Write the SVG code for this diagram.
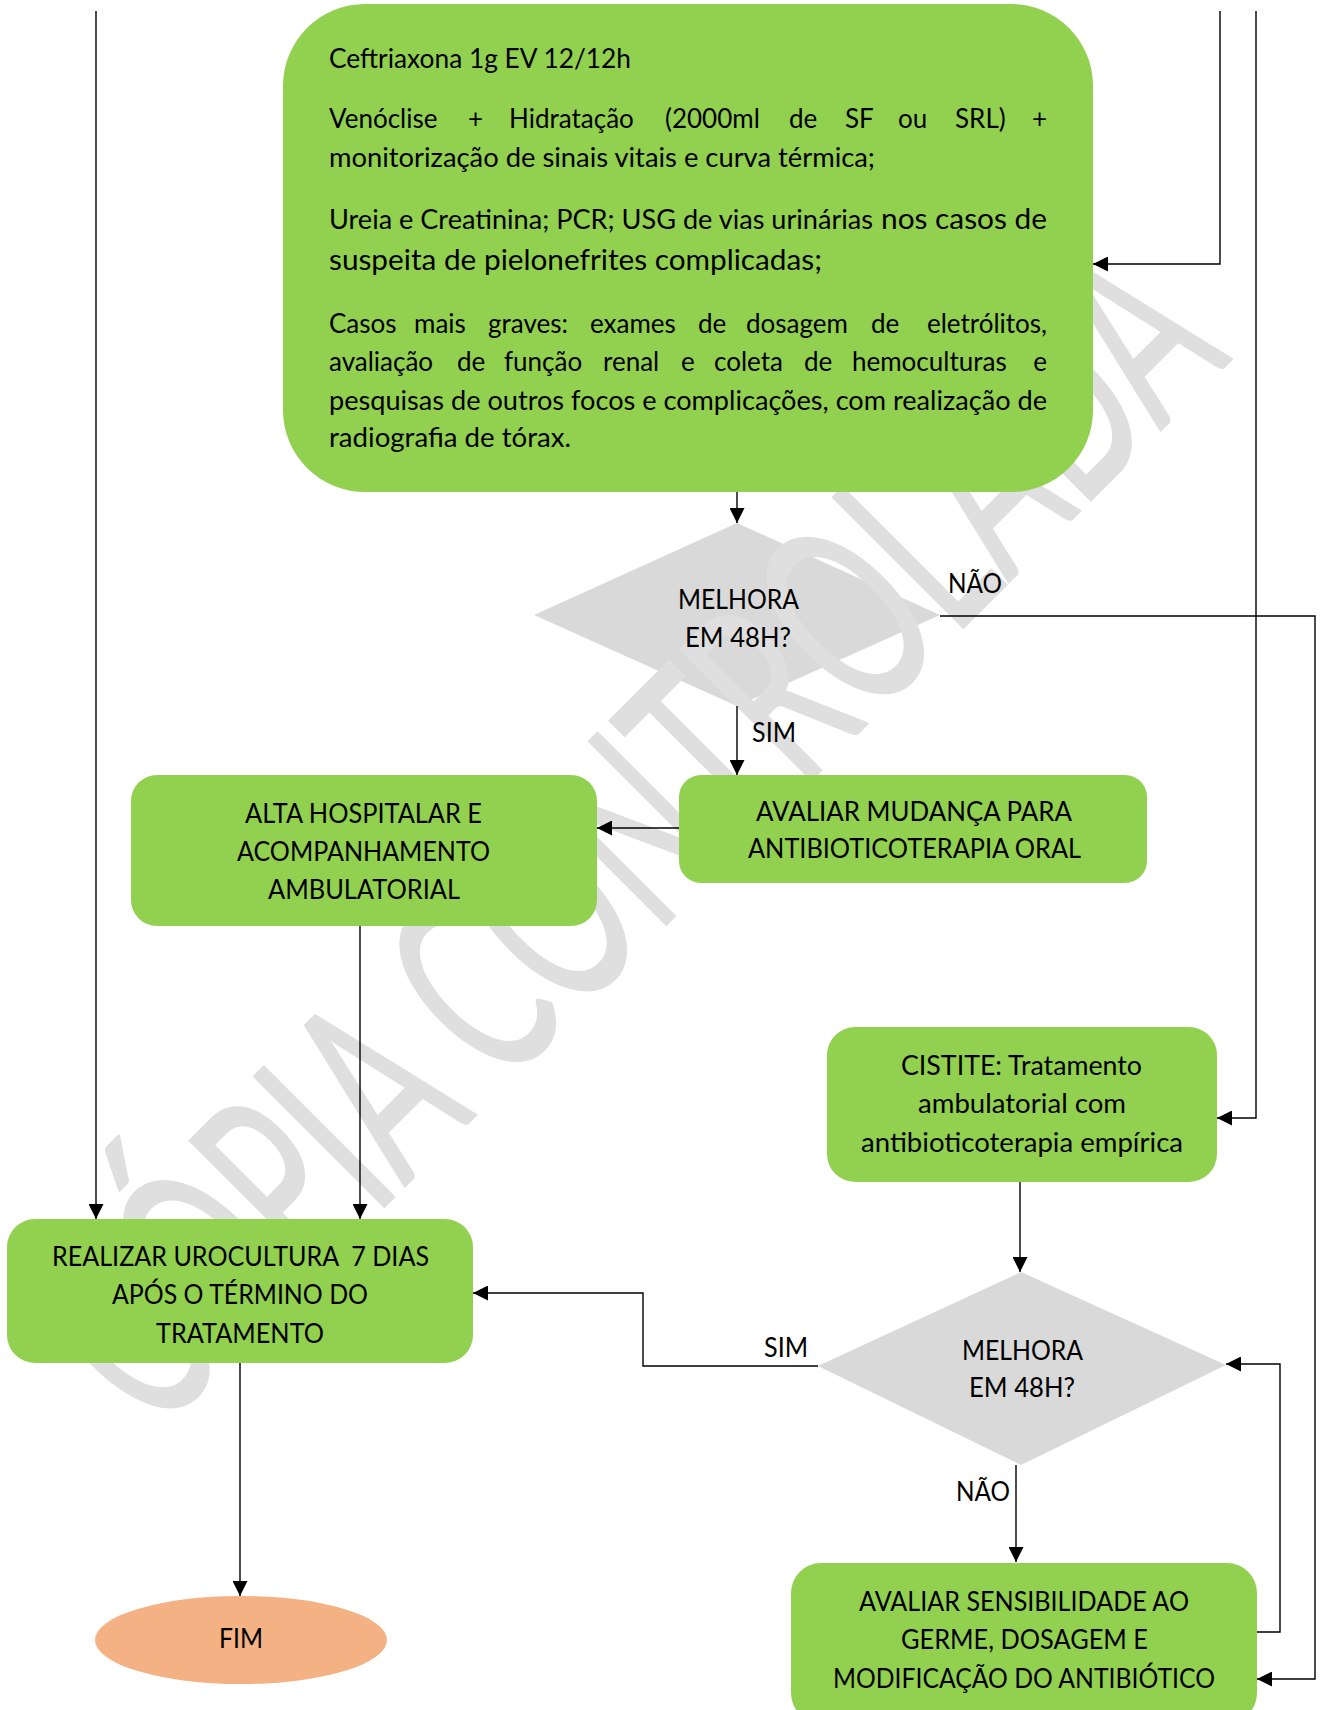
<svg xmlns="http://www.w3.org/2000/svg" width="1323" height="1710" viewBox="0 0 1323 1710">
<style>
.box{fill:#92D050}
.dia{fill:#D9D9D9}
.end{fill:#F4B183}
.t{font-family:Lato,"Liberation Sans",sans-serif;font-size:26px;fill:#000}
.big{font-size:28.5px}
.wm{font-family:Lato,"Liberation Sans",sans-serif;font-size:257px;fill:#DFDFDF;stroke:#DFDFDF;stroke-width:2.5;stroke-linejoin:round}
.c{fill:none;stroke:#000;stroke-width:1.4;marker-end:url(#arr)}
</style>
<defs>
<marker id="arr" markerWidth="15" markerHeight="15" refX="15" refY="7.5" orient="auto" markerUnits="userSpaceOnUse">
<path d="M0,0 L15,7.5 L0,15 z" fill="#000"/>
</marker>
</defs>
<rect width="1323" height="1710" fill="#fff"/>

<g id="decision1"><polygon class="dia" points="737,523 940,615 737,706 534,615"/></g>
<g id="decision2"><polygon class="dia" points="1021,1272 1226,1365 1021,1465 818,1366"/></g>

<g id="watermark">
<text class="wm" transform="translate(693,898) rotate(-45)" x="-762" y="0" textLength="1525" lengthAdjust="spacingAndGlyphs">CÓPIA CONTROLADA</text>
</g>

<g id="connectors">
<path class="c" d="M96,11 V1219"/>
<path class="c" d="M360,926 V1219"/>
<path class="c" d="M679,828 H597"/>
<path class="c" d="M737,492 V523"/>
<path class="c" d="M737,706 V775"/>
<path class="c" d="M940,616 H1315 V1679 H1257"/>
<path class="c" d="M1220,11 V264 H1093"/>
<path class="c" d="M1256,11 V1118 H1217"/>
<path class="c" d="M1020,1182 V1272"/>
<path class="c" d="M818,1366 H643 V1293 H473"/>
<path class="c" d="M1016,1465 V1562"/>
<path class="c" d="M1257,1632 H1280 V1364 H1226"/>
<path class="c" d="M240,1363 V1596"/>
</g>

<g id="labels">
<text class="t" x="752" y="742" textLength="44" lengthAdjust="spacingAndGlyphs">SIM</text>
<text class="t" x="948" y="593" textLength="54" lengthAdjust="spacingAndGlyphs">NÃO</text>
<text class="t" x="764" y="1357" textLength="44" lengthAdjust="spacingAndGlyphs">SIM</text>
<text class="t" x="956" y="1501" textLength="54" lengthAdjust="spacingAndGlyphs">NÃO</text>
</g>

<g id="decision1-text">
<text class="t" x="678" y="609" textLength="121" lengthAdjust="spacingAndGlyphs">MELHORA</text>
<text class="t" x="685" y="647" textLength="106" lengthAdjust="spacingAndGlyphs">EM 48H?</text>
</g>
<g id="decision2-text">
<text class="t" x="962" y="1360" textLength="121" lengthAdjust="spacingAndGlyphs">MELHORA</text>
<text class="t" x="969" y="1397" textLength="106" lengthAdjust="spacingAndGlyphs">EM 48H?</text>
</g>

<g id="internacao">
<rect class="box" x="283" y="4" width="810" height="488" rx="82"/>
<text class="t" x="329" y="68" textLength="302" lengthAdjust="spacingAndGlyphs">Ceftriaxona 1g EV 12/12h</text>
<text class="t" y="128"><tspan x="329">Venóclise</tspan><tspan x="468">+</tspan><tspan x="509">Hidratação</tspan><tspan x="665">(2000ml</tspan><tspan x="789">de</tspan><tspan x="845">SF</tspan><tspan x="898">ou</tspan><tspan x="955">SRL)</tspan></text>
<text class="t" x="1047" y="128" text-anchor="end">+</text>
<text class="t" x="329" y="167" textLength="546" lengthAdjust="spacingAndGlyphs">monitorização de sinais vitais e curva térmica;</text>
<text class="t" x="329" y="229" textLength="544" lengthAdjust="spacingAndGlyphs">Ureia e Creatinina; PCR; USG de vias urinárias</text>
<text class="t big" x="881" y="229" textLength="166" lengthAdjust="spacingAndGlyphs">nos casos de</text>
<text class="t big" x="329" y="270" textLength="493" lengthAdjust="spacingAndGlyphs">suspeita de pielonefrites complicadas;</text>
<text class="t" y="333"><tspan x="329">Casos</tspan><tspan x="414">mais</tspan><tspan x="488">graves:</tspan><tspan x="590">exames</tspan><tspan x="698">de</tspan><tspan x="746">dosagem</tspan><tspan x="871">de</tspan></text>
<text class="t" x="1047" y="333" text-anchor="end">eletrólitos,</text>
<text class="t" y="371"><tspan x="329">avaliação</tspan><tspan x="457">de</tspan><tspan x="504">função</tspan><tspan x="603">renal</tspan><tspan x="681">e</tspan><tspan x="714">coleta</tspan><tspan x="804">de</tspan><tspan x="852">hemoculturas</tspan></text>
<text class="t" x="1047" y="371" text-anchor="end">e</text>
<text class="t" x="329" y="410" textLength="718" lengthAdjust="spacingAndGlyphs">pesquisas de outros focos e complicações, com realização de</text>
<text class="t" x="329" y="447" textLength="242" lengthAdjust="spacingAndGlyphs">radiografia de tórax.</text>
</g>

<g id="avaliar-mudanca">
<rect class="box" x="679" y="775" width="468" height="108" rx="22"/>
<text class="t" x="756" y="821" textLength="316" lengthAdjust="spacingAndGlyphs">AVALIAR MUDANÇA PARA</text>
<text class="t" x="748" y="858" textLength="333" lengthAdjust="spacingAndGlyphs">ANTIBIOTICOTERAPIA ORAL</text>
</g>

<g id="alta">
<rect class="box" x="131" y="775" width="466" height="151" rx="26"/>
<text class="t" x="245" y="823" textLength="237" lengthAdjust="spacingAndGlyphs">ALTA HOSPITALAR E</text>
<text class="t" x="237" y="861" textLength="253" lengthAdjust="spacingAndGlyphs">ACOMPANHAMENTO</text>
<text class="t" x="268" y="899" textLength="192" lengthAdjust="spacingAndGlyphs">AMBULATORIAL</text>
</g>

<g id="cistite">
<rect class="box" x="827" y="1027" width="390" height="155" rx="28"/>
<text class="t" x="901" y="1075" textLength="241" lengthAdjust="spacingAndGlyphs">CISTITE: Tratamento</text>
<text class="t" x="918" y="1113" textLength="208" lengthAdjust="spacingAndGlyphs">ambulatorial com</text>
<text class="t" x="861" y="1152" textLength="322" lengthAdjust="spacingAndGlyphs">antibioticoterapia empírica</text>
</g>

<g id="urocultura">
<rect class="box" x="7" y="1219" width="466" height="144" rx="28"/>
<text class="t" x="52" y="1266" textLength="377" lengthAdjust="spacingAndGlyphs" xml:space="preserve" style="white-space:pre">REALIZAR UROCULTURA  7 DIAS</text>
<text class="t" x="112" y="1304" textLength="256" lengthAdjust="spacingAndGlyphs">APÓS O TÉRMINO DO</text>
<text class="t" x="156" y="1343" textLength="168" lengthAdjust="spacingAndGlyphs">TRATAMENTO</text>
</g>

<g id="avaliar-sensibilidade">
<rect class="box" x="791" y="1563" width="466" height="160" rx="30"/>
<text class="t" x="859" y="1611" textLength="330" lengthAdjust="spacingAndGlyphs">AVALIAR SENSIBILIDADE AO</text>
<text class="t" x="901" y="1649" textLength="247" lengthAdjust="spacingAndGlyphs">GERME, DOSAGEM E</text>
<text class="t" x="833" y="1688" textLength="382" lengthAdjust="spacingAndGlyphs">MODIFICAÇÃO DO ANTIBIÓTICO</text>
</g>

<g id="fim">
<ellipse class="end" cx="241" cy="1640" rx="146" ry="44"/>
<text class="t" x="219" y="1648" textLength="44" lengthAdjust="spacingAndGlyphs">FIM</text>
</g>
</svg>
